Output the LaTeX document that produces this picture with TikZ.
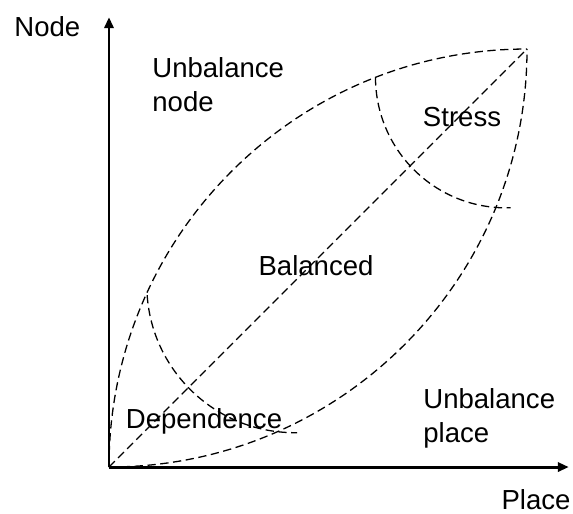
\documentclass[tikz,border=0pt]{standalone}
\usepackage{fontspec}
\setmainfont{Liberation Sans}
\usetikzlibrary{arrows.meta}
\begin{document}
\begin{tikzpicture}[x=1cm,y=1cm,
		axis/.style={line width=1.6pt,-{Triangle[length=6pt,width=5pt]}},
		zone/.style={dash pattern=on 4.5pt off 2.5pt,line width=0.7pt},
		lbl/.style={inner sep=0pt,font=\fontsize{15}{18.5}\selectfont}]
	\useasboundingbox (-2.086,-0.880) rectangle (8.880,8.938);
	\coordinate (O) at (0,0);
	\coordinate (T) at (8,8);
	\coordinate (xend) at (8.80,0);
	\coordinate (yend) at (0,8.61);

	% axes
	\draw[axis] (O) -- (xend);
	\draw[axis] (O) -- (yend);
	\node[lbl,anchor=base west] (ylab) at (-1.818,8.23) {Node};
	\node[lbl,anchor=base] (xlab) at (8.172,-0.804) {Place};

	% lens
	\draw[zone] (O) arc[start angle=180,end angle=90,radius=8];
	\draw[zone] (O) arc[start angle=270,end angle=360,radius=8];
	\draw[zone] (O) -- (T);

	% limits
	\coordinate (stressA) at (5.1,7.46);
	\coordinate (depA) at (0.73,3.29);
	\draw[zone] (stressA) arc[start angle=180,end angle=272,radius=2.5];
	\draw[zone] (depA) arc[start angle=184,end angle=271,radius=2.83];

	% zones
	\node[lbl,anchor=base west,align=left] (unode) at (0.823,6.813) {Unbalance\\node};
	\node[lbl,anchor=base west,align=left] (uplace) at (6.01,0.478) {Unbalance\\place};
	\node[lbl,anchor=base] (stress) at (6.756,6.526) {Stress};
	\node[lbl,anchor=base] (bal) at (3.962,3.675) {Balanced};
	\node[lbl,anchor=base] (dep) at (1.818,0.746) {Dependence};
\end{tikzpicture}
\end{document}
